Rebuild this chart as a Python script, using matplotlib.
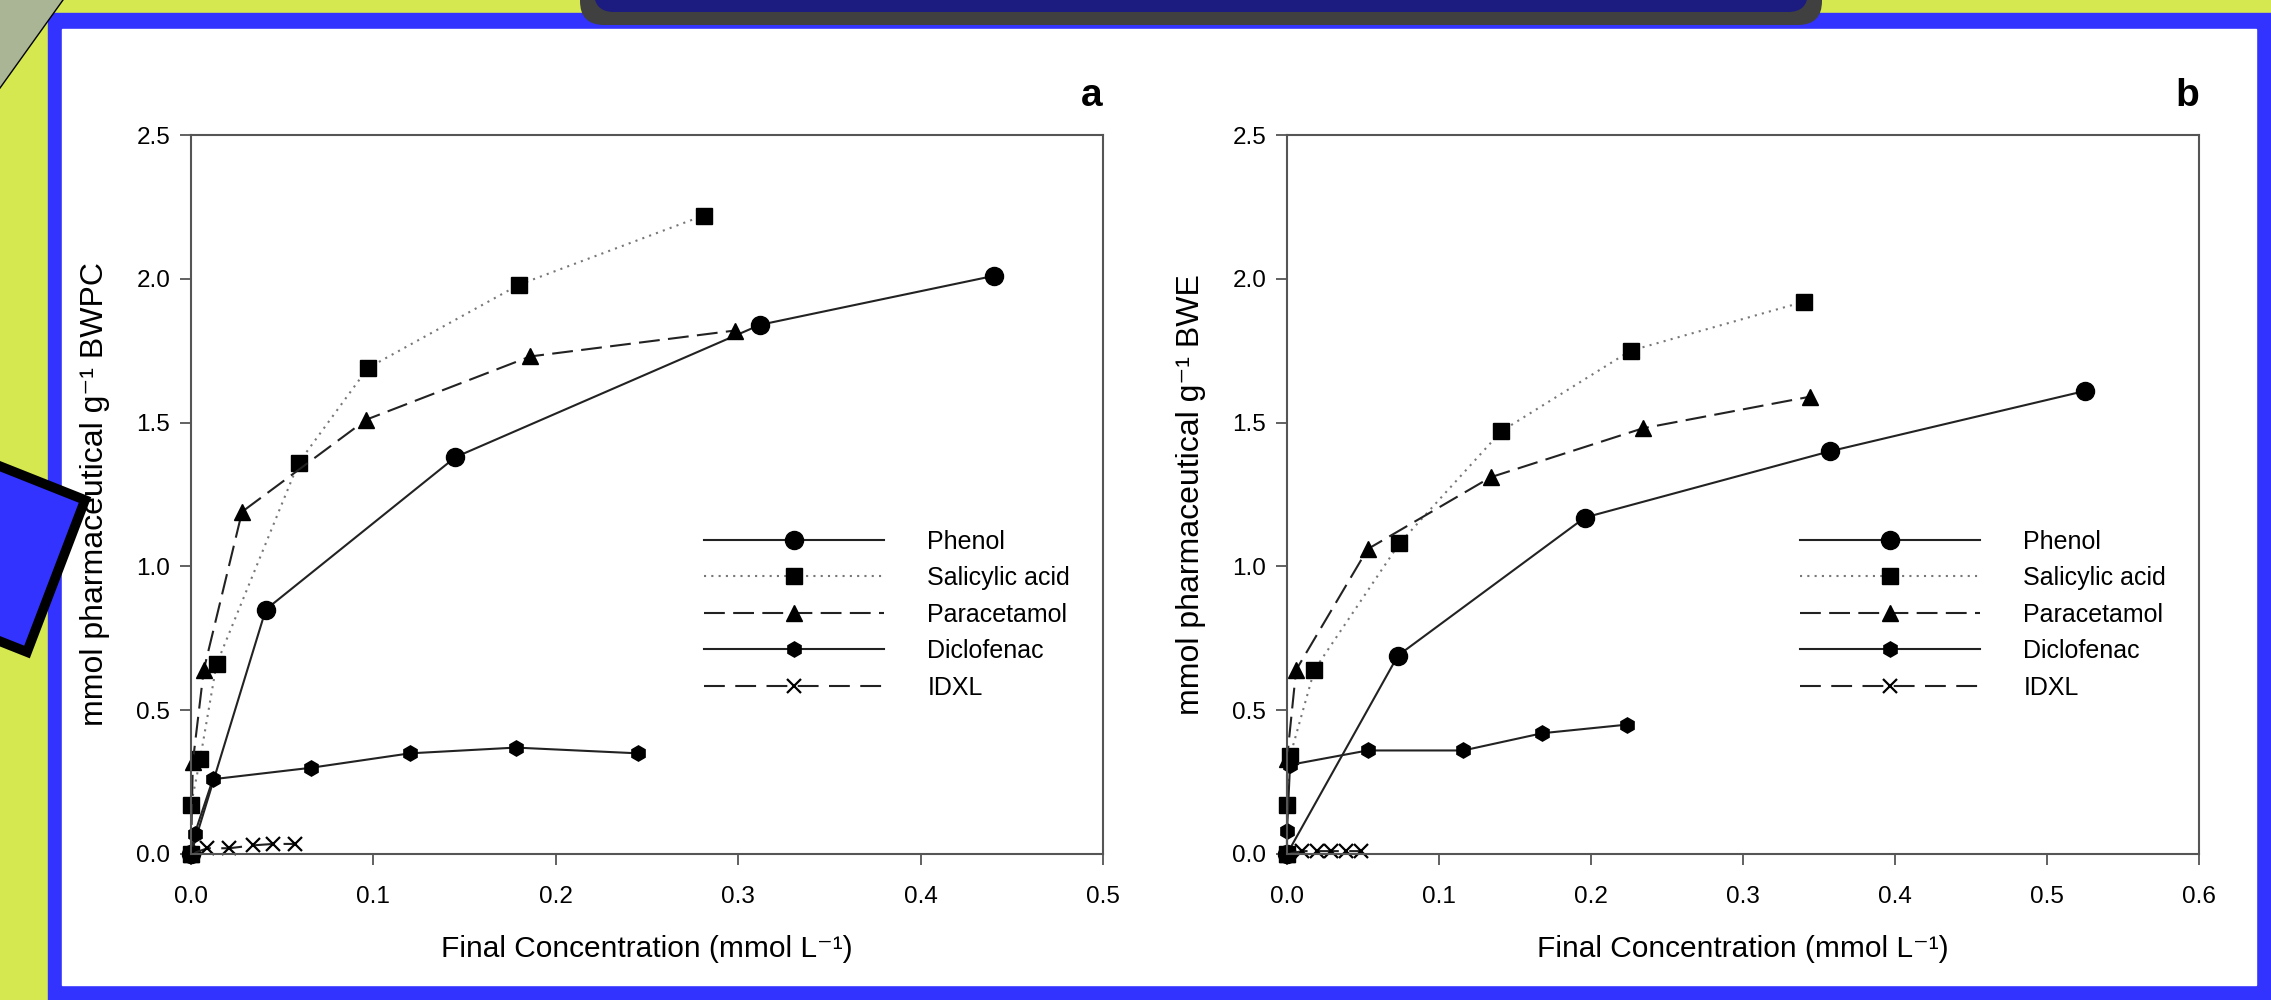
import numpy as np
import matplotlib
matplotlib.use('Agg')
import matplotlib.pyplot as plt
from matplotlib.patches import Rectangle, Polygon, FancyBboxPatch
from matplotlib.ticker import FormatStrFormatter

plt.rcParams['font.family'] = ['Liberation Sans', 'DejaVu Sans']

# data (final concentration, mmol/g)
series_names = ['Phenol', 'Salicylic acid', 'Paracetamol', 'Diclofenac', 'IDXL']

phenol_a_x = [0.0, 0.041, 0.145, 0.312, 0.440]
phenol_a_y = [0.0, 0.85, 1.38, 1.84, 2.01]
salicylic_a_x = [0.0, 0.0, 0.005, 0.014, 0.059, 0.097, 0.180, 0.281]
salicylic_a_y = [0.0, 0.17, 0.33, 0.66, 1.36, 1.69, 1.98, 2.22]
paracetamol_a_x = [0.0, 0.001, 0.007, 0.028, 0.096, 0.186, 0.298]
paracetamol_a_y = [0.0, 0.32, 0.64, 1.19, 1.51, 1.73, 1.82]
diclofenac_a_x = [0.0, 0.002, 0.012, 0.066, 0.120, 0.178, 0.245]
diclofenac_a_y = [0.0, 0.07, 0.26, 0.30, 0.35, 0.37, 0.35]
idxl_a_x = [0.0, 0.009, 0.021, 0.034, 0.045, 0.057]
idxl_a_y = [0.0, 0.02, 0.02, 0.03, 0.035, 0.035]

phenol_b_x = [0.0, 0.073, 0.196, 0.357, 0.525]
phenol_b_y = [0.0, 0.69, 1.17, 1.40, 1.61]
salicylic_b_x = [0.0, 0.0, 0.002, 0.018, 0.074, 0.141, 0.226, 0.340]
salicylic_b_y = [0.0, 0.17, 0.34, 0.64, 1.08, 1.47, 1.75, 1.92]
paracetamol_b_x = [0.0, 0.0, 0.006, 0.053, 0.134, 0.234, 0.344]
paracetamol_b_y = [0.0, 0.33, 0.64, 1.06, 1.31, 1.48, 1.59]
diclofenac_b_x = [0.0, 0.0, 0.002, 0.053, 0.116, 0.168, 0.224]
diclofenac_b_y = [0.0, 0.08, 0.31, 0.36, 0.36, 0.42, 0.45]
idxl_b_x = [0.0, 0.010, 0.020, 0.029, 0.039, 0.049]
idxl_b_y = [0.0, 0.01, 0.01, 0.01, 0.01, 0.01]

x_ticks_a = [0.0, 0.1, 0.2, 0.3, 0.4, 0.5]
x_ticks_b = [0.0, 0.1, 0.2, 0.3, 0.4, 0.5, 0.6]
y_ticks = [0.0, 0.5, 1.0, 1.5, 2.0, 2.5]

styles = [
    dict(ls='-', color='#222222', marker='o', ms=13, lw=1.5, mfc='k', mec='k'),
    dict(ls=(0, (1, 2.5)), color='#777777', marker='s', ms=11, lw=1.5, mfc='k', mec='k'),
    dict(ls=(0, (10, 4)), color='#222222', marker='^', ms=12, lw=1.5, mfc='k', mec='k'),
    dict(ls='-', color='#222222', marker='h', ms=11, lw=1.5, mfc='k', mec='k'),
    dict(ls=(0, (10, 5)), color='#222222', marker='x', ms=10, lw=1.5, mew=1.6, mec='k'),
]

W, H = 2271, 1000
fig = plt.figure(figsize=(W / 100, H / 100), dpi=100)
fig.patch.set_facecolor('#d5e850')

# slide decoration, drawn in pixel coordinates
bg = fig.add_axes([0, 0, 1, 1], zorder=0)
bg.set_xlim(0, W)
bg.set_ylim(H, 0)
bg.axis('off')
bg.add_patch(Rectangle((48, 13), W - 48, H - 13, color='#3333ff'))
bg.add_patch(Rectangle((62, 29), 2256 - 62, 985 - 29, color='white'))
bg.add_patch(FancyBboxPatch((580, -60), 1242, 85, boxstyle='round,pad=0,rounding_size=24',
                            fc='#404040', ec='none'))
bg.add_patch(FancyBboxPatch((594, -60), 1214, 72, boxstyle='round,pad=0,rounding_size=20',
                            fc='#1b1b80', ec='none'))
bg.add_patch(Polygon([(0, 0), (63, 0), (0, 88)], closed=True, fc='#a9b594', ec='none'))
bg.plot([63, 0], [0, 88], color='black', lw=1)
bg.add_patch(Polygon([(-66, 440), (85, 500), (27, 652), (-124, 592)], closed=True,
                     fc='#3333ff', ec='black', lw=7, joinstyle='miter'))


def make_panel(rect, data, xmax, xticks, ylabel, letter):
    ax = fig.add_axes(rect, zorder=1)
    ax.set_facecolor('white')
    for (xs, ys), name, st in zip(data, series_names, styles):
        ax.plot(xs, ys, label=name, clip_on=False, **st)
    ax.set_xlim(0, xmax)
    ax.set_ylim(0, 2.5)
    ax.set_xticks(xticks)
    ax.set_yticks(y_ticks)
    ax.xaxis.set_major_formatter(FormatStrFormatter('%.1f'))
    ax.yaxis.set_major_formatter(FormatStrFormatter('%.1f'))
    for s in ax.spines.values():
        s.set_color('#555555')
        s.set_linewidth(1.5)
    ax.tick_params(direction='out', length=8, width=1.3, color='#555555', labelsize=17.5,
                   top=False, right=False)
    ax.tick_params(axis='x', pad=15)
    ax.tick_params(axis='y', pad=7)
    ax.set_xlabel('Final Concentration (mmol L\u207b\u00b9)', fontsize=21.5)
    ax.xaxis.set_label_coords(0.5, -0.112)
    ax.set_ylabel(ylabel, fontsize=23)
    ax.yaxis.set_label_coords(-0.089, 0.5)
    ax.text(1.0, 1.054, letter, transform=ax.transAxes, ha='right', va='center',
            fontsize=28, fontweight='bold')
    ax.legend(loc='upper left', bbox_to_anchor=(0.562, 0.451), frameon=False,
              fontsize=18, handlelength=7.2, handletextpad=1.75, labelspacing=0.5,
              numpoints=1, borderpad=0, borderaxespad=0)
    return ax


data_a = [(phenol_a_x, phenol_a_y), (salicylic_a_x, salicylic_a_y),
          (paracetamol_a_x, paracetamol_a_y), (diclofenac_a_x, diclofenac_a_y),
          (idxl_a_x, idxl_a_y)]
data_b = [(phenol_b_x, phenol_b_y), (salicylic_b_x, salicylic_b_y),
          (paracetamol_b_x, paracetamol_b_y), (diclofenac_b_x, diclofenac_b_y),
          (idxl_b_x, idxl_b_y)]

make_panel([191 / W, 1 - 854 / H, 912 / W, 719 / H], data_a, 0.5, x_ticks_a,
           'mmol pharmaceutical g\u207b\u00b9 BWPC', 'a')
make_panel([1287 / W, 1 - 854 / H, 912 / W, 719 / H], data_b, 0.6, x_ticks_b,
           'mmol pharmaceutical g\u207b\u00b9 BWE', 'b')

plt.savefig('out.png', dpi=100)
